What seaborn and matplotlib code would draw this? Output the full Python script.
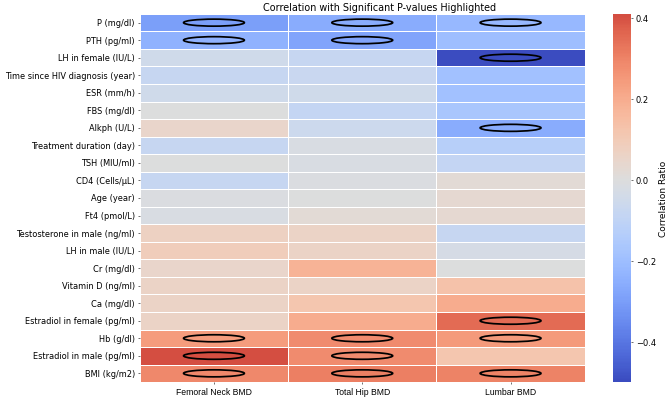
import numpy as np
import pandas as pd
import seaborn as sns
import matplotlib.pyplot as plt
from matplotlib.patches import Ellipse

features = [
    "P (mg/dl)", "PTH (pg/ml)", "LH in female (IU/L)", "Time since HIV diagnosis (year)",
    "ESR (mm/h)", "FBS (mg/dl)", "Alkph (U/L)", "Treatment duration (day)",
    "TSH (MIU/ml)", "CD4 (Cells/\u00b5L)", "Age (year)", "Ft4 (pmol/L)",
    "Testosterone in male (ng/ml)", "LH in male (IU/L)", "Cr (mg/dl)", "Vitamin D (ng/ml)",
    "Ca (mg/dl)", "Estradiol in female (pg/ml)", "Hb (g/dl)", "Estradiol in male (pg/ml)",
    "BMI (kg/m2)",
]
sites = ["Femoral Neck BMD", "Total Hip BMD", "Lumbar BMD"]

femoral_neck = [-0.30, -0.24, -0.05, -0.08, -0.05, 0.00, 0.05, -0.08, 0.00, -0.08, -0.01,
                -0.02, 0.07, 0.09, 0.05, 0.06, 0.06, 0.06, 0.24, 0.41, 0.29]
total_hip = [-0.26, -0.28, -0.08, -0.07, -0.05, -0.09, -0.06, -0.02, -0.02, -0.01, 0.00,
             0.02, 0.06, 0.06, 0.18, 0.06, 0.12, 0.20, 0.28, 0.28, 0.31]
lumbar = [-0.22, -0.20, -0.50, -0.19, -0.19, -0.17, -0.26, -0.13, -0.09, 0.02, 0.03,
          0.03, -0.08, -0.03, 0.00, 0.13, 0.20, 0.35, 0.25, 0.12, 0.30]

# 1 = significant p-value
sig_femoral_neck = [1, 1, 0, 0, 0, 0, 0, 0, 0, 0, 0, 0, 0, 0, 0, 0, 0, 0, 1, 1, 1]
sig_total_hip = [1, 1, 0, 0, 0, 0, 0, 0, 0, 0, 0, 0, 0, 0, 0, 0, 0, 0, 1, 1, 1]
sig_lumbar = [1, 0, 1, 0, 0, 0, 1, 0, 0, 0, 0, 0, 0, 0, 0, 0, 0, 1, 1, 0, 1]

corr = pd.DataFrame({sites[0]: femoral_neck, sites[1]: total_hip, sites[2]: lumbar}, index=features)
sig = pd.DataFrame({sites[0]: sig_femoral_neck, sites[1]: sig_total_hip, sites[2]: sig_lumbar},
                   index=features)

fig = plt.figure(figsize=(13.38, 8.04), dpi=50)
ax = fig.add_axes([0.209, 0.047, 0.665, 0.916])
cax = fig.add_axes([0.916, 0.047, 0.027, 0.916])

sns.heatmap(corr, cmap="coolwarm", center=0, ax=ax, cbar_ax=cax, linewidths=1, linecolor="white",
            cbar_kws={"label": "Correlation Ratio"})

# circle the significant cells
for i in range(len(features)):
    for j in range(len(sites)):
        if sig.iloc[i, j]:
            ax.add_patch(Ellipse((j + 0.5, i + 0.5), 0.41, 0.4, fill=False,
                                 edgecolor="black", linewidth=2.5))

ax.set_title("Correlation with Significant P-values Highlighted", fontsize=13.8, x=0.54)
ax.tick_params(axis="y", labelsize=11.8)
ax.tick_params(axis="x", labelsize=12.4)
for lbl in ax.get_xticklabels():
    lbl.set_family("Liberation Sans")
plt.setp(ax.get_yticklabels(), rotation=0)
cax.tick_params(labelsize=12)
cax.yaxis.label.set_size(13)

fig.savefig("out.png", dpi=50)
